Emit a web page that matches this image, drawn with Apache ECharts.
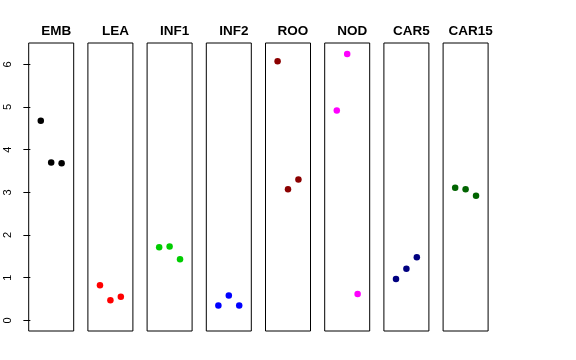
<!DOCTYPE html>
<html><head><meta charset="utf-8">
<script src="https://cdn.jsdelivr.net/npm/echarts@6/dist/echarts.min.js"></script>
<style>html,body{margin:0;padding:0;background:#fff}#c{width:576px;height:360px}</style>
</head><body><div id="c"></div>
<script>
var categories = ['EMB','LEA','INF1','INF2','ROO','NOD','CAR5','CAR15'];
var colors = ['#000000','#FF0000','#00CD00','#0000FF','#8B0000','#FF00FF','#000080','#006400'];
var xPositions = [1, 2, 3];
var EMB = [4.68, 3.70, 3.68];
var LEA = [0.82, 0.47, 0.55];
var INF1 = [1.71, 1.73, 1.43];
var INF2 = [0.35, 0.58, 0.35];
var ROO = [6.07, 3.07, 3.30];
var NOD = [4.92, 6.24, 0.62];
var CAR5 = [0.97, 1.21, 1.48];
var CAR15 = [3.11, 3.07, 2.92];
var yTicks = [0, 1, 2, 3, 4, 5, 6];
var values = [EMB, LEA, INF1, INF2, ROO, NOD, CAR5, CAR15];

var panelLeft = 28.7, panelPitch = 59.2, panelWidth = 45, panelTop = 43, panelHeight = 288;
var grids = [], xAxes = [], yAxes = [], series = [], titles = [];
categories.forEach(function(name, i){
  var l = panelLeft + i * panelPitch;
  grids.push({left: l, top: panelTop, width: panelWidth, height: panelHeight,
    show: true, borderColor: '#000', borderWidth: 1, backgroundColor: 'transparent', containLabel: false});
  xAxes.push({type: 'value', gridIndex: i, min: -0.16, max: 4.16, show: false});
  var y = {type: 'value', gridIndex: i, min: -0.25, max: 6.5, splitLine: {show: false}};
  if (i === 0) {
    y.axisLine = {show: false};
    y.axisTick = {show: true, length: 7, inside: false, customValues: yTicks, lineStyle: {color: '#000'}};
    y.axisLabel = {show: true, rotate: 90, margin: 15, customValues: yTicks,
      fontFamily: 'Liberation Sans, Arial, sans-serif', fontSize: 11, color: '#000'};
  } else {
    y.show = false;
  }
  yAxes.push(y);
  series.push({type: 'scatter', xAxisIndex: i, yAxisIndex: i, symbol: 'circle', symbolSize: 6.5,
    itemStyle: {color: colors[i], opacity: 1}, silent: true,
    data: values[i].map(function(v, j){ return [xPositions[j], v]; })});
  titles.push({text: name, left: l + panelWidth / 2, top: 19, textAlign: 'center',
    textStyle: {fontFamily: 'Liberation Sans, Arial, sans-serif', fontWeight: 'bold', fontSize: 13.5, color: '#000'}});
});

var chart = echarts.init(document.getElementById('c'), null, {renderer: 'canvas'});
chart.setOption({animation: false, backgroundColor: '#fff', title: titles,
  grid: grids, xAxis: xAxes, yAxis: yAxes, series: series});
</script></body></html>
